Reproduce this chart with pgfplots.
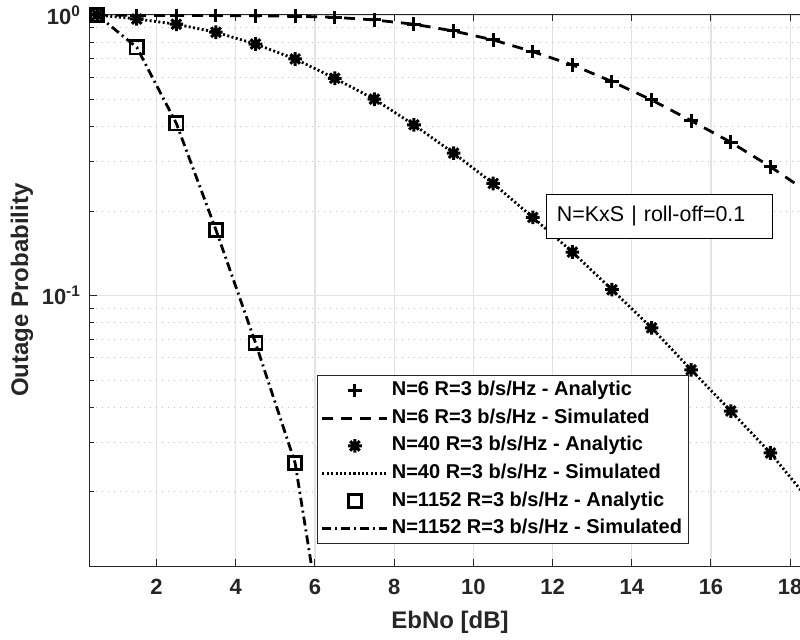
\documentclass[border=0pt]{standalone}
\usepackage{fontspec}
\setmainfont{Liberation Sans}
\usepackage{pgfplots}
\pgfplotsset{compat=1.18}
\definecolor{axgray}{HTML}{262626}
\definecolor{gridgray}{HTML}{E3E3E3}
\pgfdeclareplotmark{mstar}{%
  \pgfpathmoveto{\pgfqpoint{-\pgfplotmarksize}{0pt}}%
  \pgfpathlineto{\pgfqpoint{\pgfplotmarksize}{0pt}}%
  \pgfpathmoveto{\pgfqpoint{0pt}{-\pgfplotmarksize}}%
  \pgfpathlineto{\pgfqpoint{0pt}{\pgfplotmarksize}}%
  \pgfpathmoveto{\pgfqpoint{-0.707\pgfplotmarksize}{-0.707\pgfplotmarksize}}%
  \pgfpathlineto{\pgfqpoint{0.707\pgfplotmarksize}{0.707\pgfplotmarksize}}%
  \pgfpathmoveto{\pgfqpoint{-0.707\pgfplotmarksize}{0.707\pgfplotmarksize}}%
  \pgfpathlineto{\pgfqpoint{0.707\pgfplotmarksize}{-0.707\pgfplotmarksize}}%
  \pgfusepathqstroke}
\pgfplotstableread{
x y
0.5 1.0
1.5 0.997
2.5 0.996
3.5 0.995
4.5 0.993
5.5 0.990
6.5 0.981
7.5 0.960
8.5 0.927
9.5 0.877
10.5 0.815
11.5 0.740
12.5 0.664
13.5 0.579
14.5 0.498
15.5 0.420
16.5 0.352
17.5 0.288
18.5 0.231
}\nsix
\pgfplotstableread{
x y
0.5 1.0
1.5 0.968
2.5 0.927
3.5 0.868
4.5 0.788
5.5 0.697
6.5 0.595
7.5 0.501
8.5 0.406
9.5 0.322
10.5 0.251
11.5 0.190
12.5 0.143
13.5 0.105
14.5 0.0768
15.5 0.0544
16.5 0.0388
17.5 0.0275
18.5 0.0185
}\nforty
\pgfplotstableread{
x y
0.5 1.0
1.5 0.767
2.5 0.411
3.5 0.1715
4.5 0.0678
5.5 0.0253
6.5 0.0033
}\nbig
\begin{document}
\begin{tikzpicture}
\useasboundingbox (-45pt,-36.5pt) rectangle (355pt,283pt);
\begin{axis}[
  at={(0pt,0pt)}, anchor=south west,
  scale only axis, width=360pt, height=276pt,
  ymode=log, xmin=0.32, xmax=18.5, ymin=0.01088, ymax=1.008,
  axis line style={axgray, line width=0.5pt},
  tick align=inside, major tick length=3.3pt, minor tick length=1.8pt,
  every tick/.style={axgray, line width=0.5pt},
  xtick={2,4,6,8,10,12,14,16,18}, xticklabels={2,4,6,8,10,12,14,16,18},
  ytick={0.1,1}, yticklabels={10\textsuperscript{-1},10\textsuperscript{0}},
  minor ytick={0.02,0.03,0.04,0.05,0.06,0.07,0.08,0.09,0.2,0.3,0.4,0.5,0.6,0.7,0.8,0.9},
  ticklabel style={font=\fontsize{11}{12}\selectfont\bfseries, text=axgray},
  xticklabel style={yshift=-3pt},
  yticklabel style={xshift=-1pt},
  xmajorgrids, ymajorgrids, yminorgrids,
  major grid style={gridgray, line width=0.6pt},
  minor grid style={gray!50, line width=0.5pt, dash pattern=on 0.5pt off 2.5pt},
  xlabel={EbNo [dB]}, ylabel={Outage Probability},
  label style={font=\fontsize{12}{13}\selectfont\bfseries, text=axgray},
  xlabel style={at={(axis description cs:0.5,-0.1014)}, anchor=center},
  ylabel style={at={(axis description cs:-0.0944,0.5)}, anchor=center},
  legend image code/.code={\draw[mark repeat=2,mark phase=2] plot coordinates {(0pt,0pt) (16.25pt,0pt) (32.5pt,0pt)};},
  legend cell align=left,
  legend style={at={(axis description cs:0.3147,0.0399)}, anchor=south west,
    draw=axgray, line width=0.5pt, fill=white,
    font=\fontsize{10}{11}\selectfont\bfseries,
    inner xsep=2pt, inner ysep=0.5pt, row sep=0pt,
    nodes={inner xsep=1.5pt, inner ysep=2pt, text height=7.4pt, text depth=2.4pt}},
]
\addplot[black, only marks, mark=+, mark size=3.4pt, mark options={line width=1.5pt, solid}] table[x=x,y=y] {\nsix};
\addlegendentry{N=6 R=3 b/s/Hz - Analytic}
\addplot[black, no marks, line width=1.4pt, dash pattern=on 5.5pt off 4pt] table[x=x,y=y] {\nsix};
\addlegendentry{N=6 R=3 b/s/Hz - Simulated}
\addplot[black, only marks, mark=mstar, mark size=3.4pt, mark options={line width=1.5pt, solid}] table[x=x,y=y] {\nforty};
\addlegendentry{N=40 R=3 b/s/Hz - Analytic}
\addplot[black, no marks, line width=1.4pt, dash pattern=on 1pt off 1.2pt] table[x=x,y=y] {\nforty};
\addlegendentry{N=40 R=3 b/s/Hz - Simulated}
\addplot[black, only marks, mark=square, mark size=3.3pt, mark options={line width=1.3pt, solid}] table[x=x,y=y] {\nbig};
\addlegendentry{N=1152 R=3 b/s/Hz - Analytic}
\addplot[black, no marks, line width=1.4pt, dash pattern=on 4.5pt off 2pt on 1pt off 2pt] table[x=x,y=y] {\nbig};
\addlegendentry{N=1152 R=3 b/s/Hz - Simulated}
\node[draw=black, line width=0.5pt, fill=white, anchor=north west, text width=102.4pt, align=left, inner xsep=5.3pt, minimum height=22pt, font=\fontsize{10.7}{12}\selectfont] at (axis cs:11.83,0.2303) {N=KxS | roll-off=0.1};
\end{axis}
\end{tikzpicture}
\end{document}
